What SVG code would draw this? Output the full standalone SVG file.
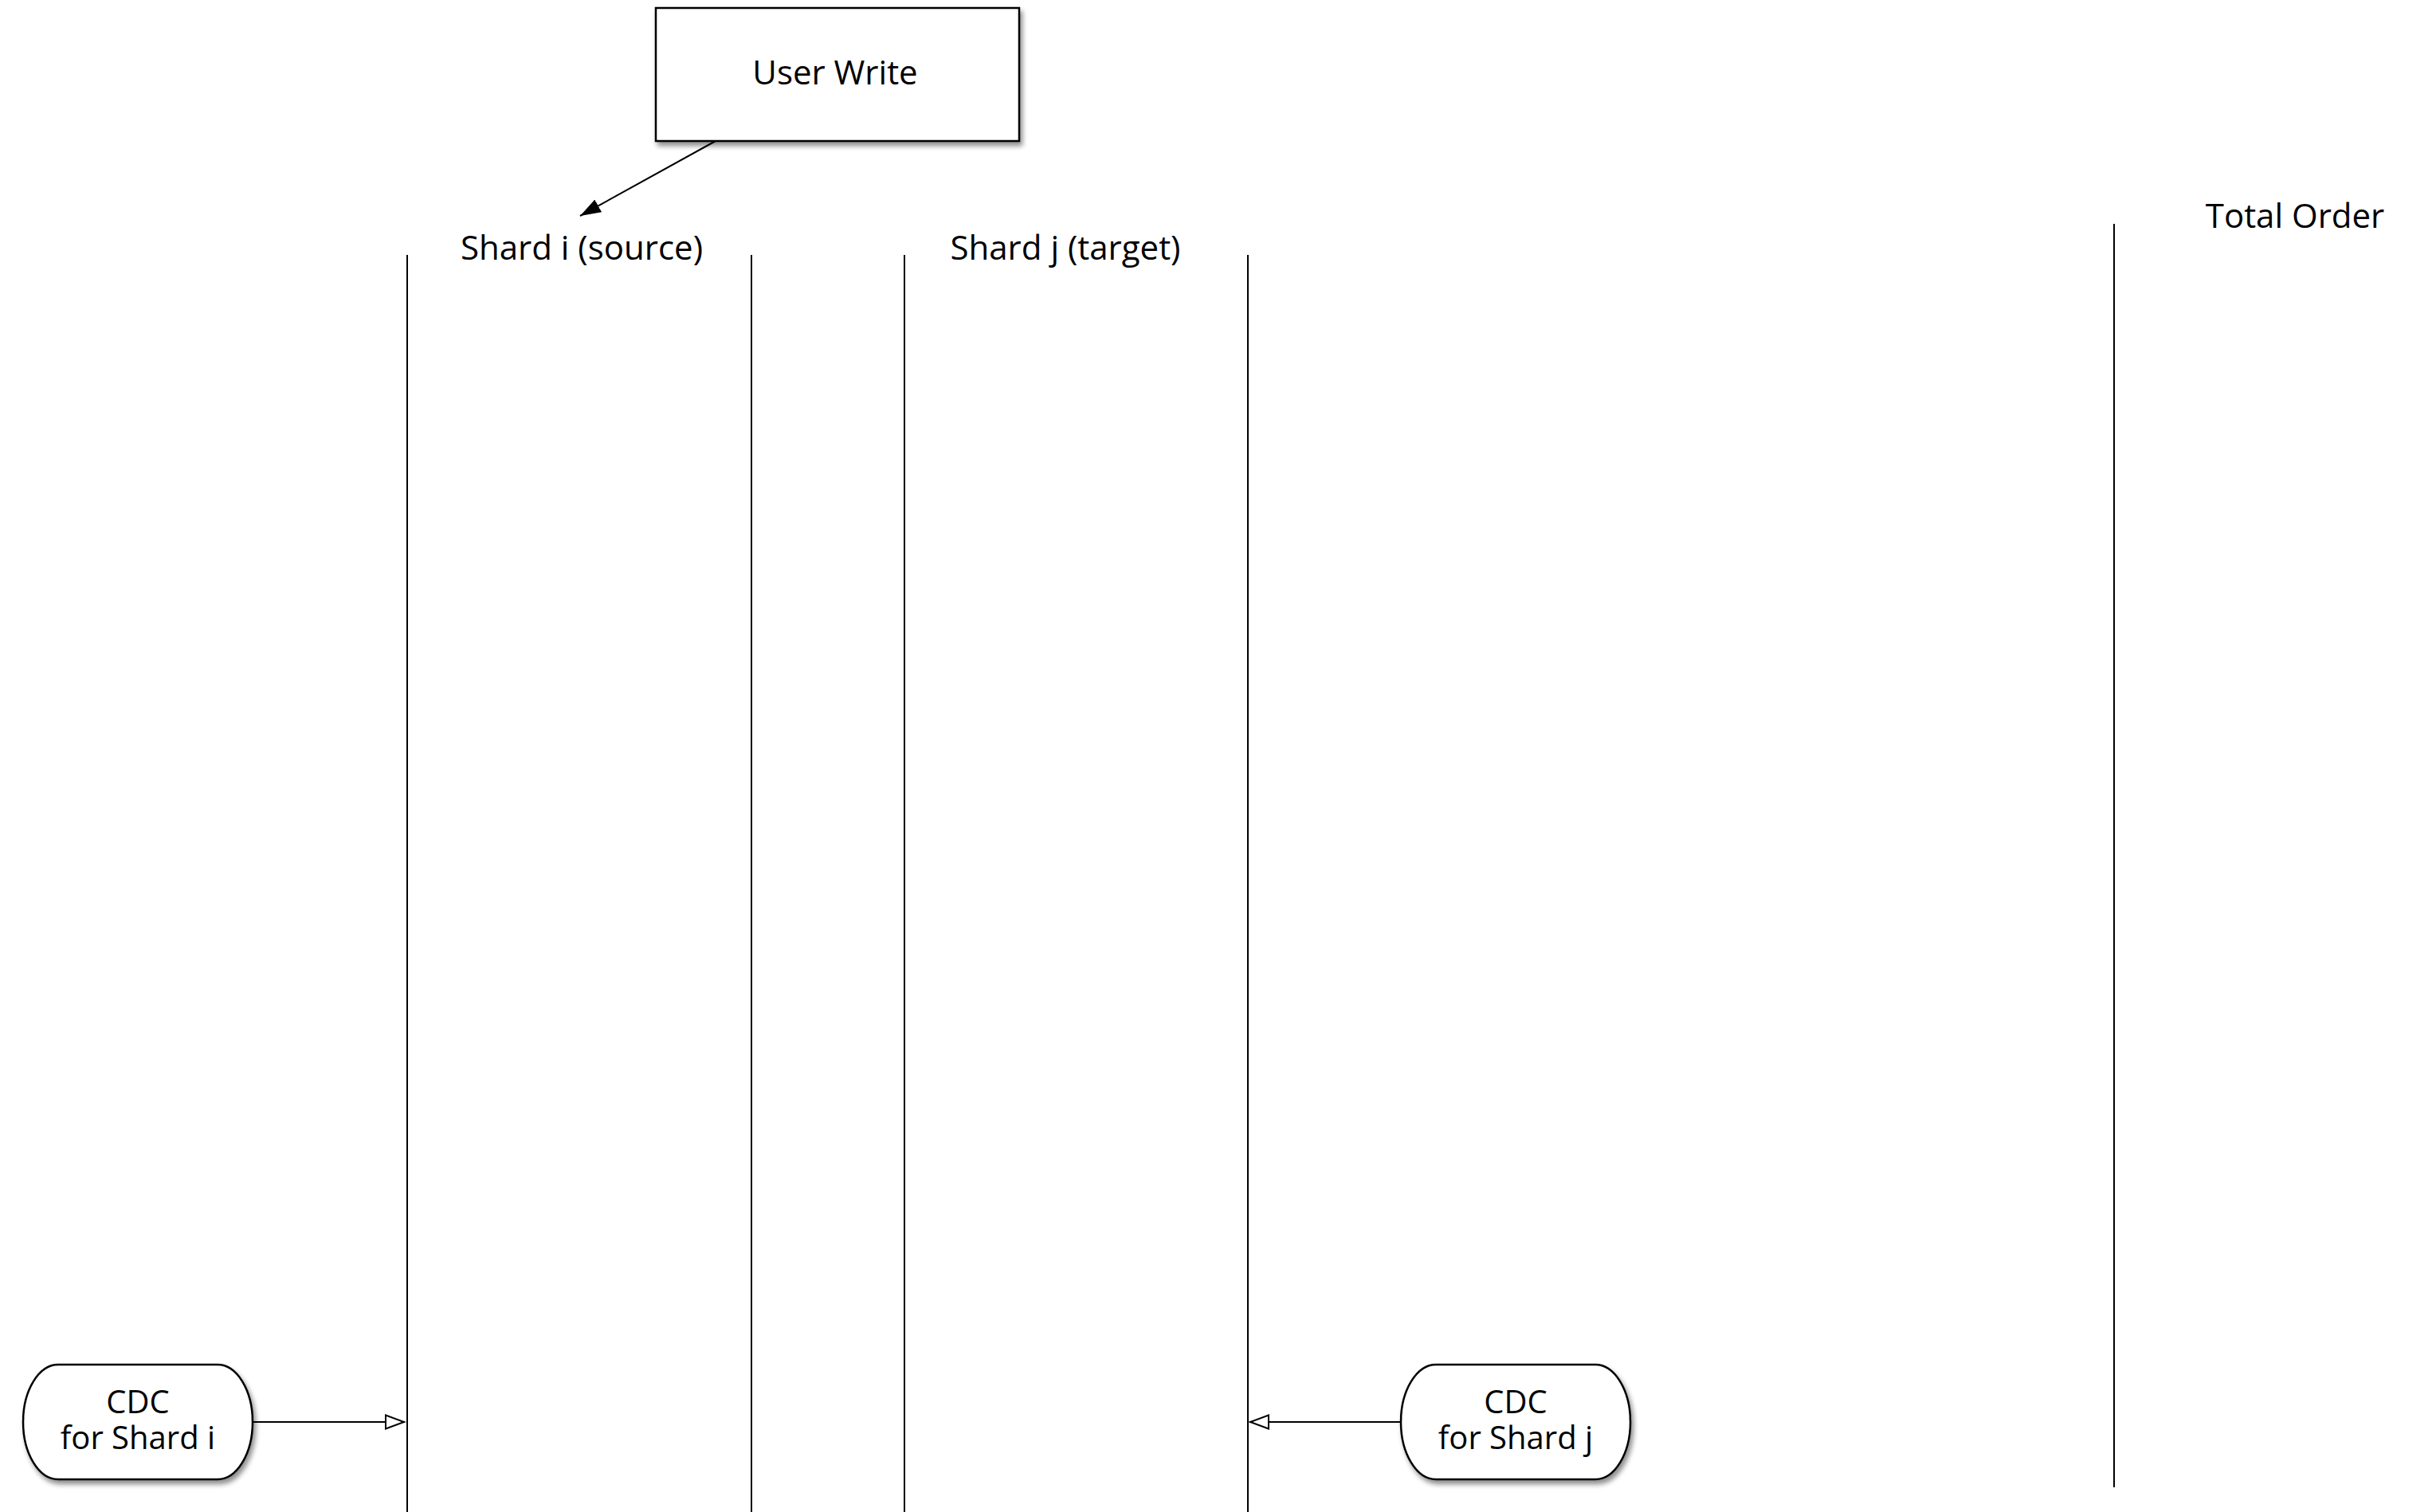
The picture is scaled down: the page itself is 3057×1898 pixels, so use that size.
<svg xmlns="http://www.w3.org/2000/svg" width="3057" height="1898" viewBox="0 0 3057 1898">
  <style>
    .label { font-family: "Open Sans", "Noto Sans", "Liberation Sans", sans-serif; font-size: 42px; fill: #000; text-anchor: middle; }
    .small { font-size: 40px; }
    .box { fill: #fff; stroke: #000; stroke-width: 2.5; }
    .lane { stroke: #000; stroke-width: 2; fill: none; }
    .edge { stroke: #000; stroke-width: 2; fill: none; }
  </style>
  <defs>
    <filter id="shadow" x="-20%" y="-20%" width="140%" height="150%">
      <feGaussianBlur in="SourceAlpha" stdDeviation="3"/>
      <feOffset dx="3" dy="5" result="b"/>
      <feComponentTransfer><feFuncA type="linear" slope="0.45"/></feComponentTransfer>
      <feMerge><feMergeNode/><feMergeNode in="SourceGraphic"/></feMerge>
    </filter>
    <marker id="solidHead" markerUnits="userSpaceOnUse" markerWidth="30" markerHeight="22" refX="26" refY="9" orient="auto">
      <path d="M0,0 L26,9 L0,18 Z" fill="#000"/>
    </marker>
    <marker id="openHead" markerUnits="userSpaceOnUse" markerWidth="30" markerHeight="24" refX="25" refY="10" orient="auto">
      <path d="M1,1.5 L24,10 L1,18.5 Z" fill="#fff" stroke="#000" stroke-width="2"/>
    </marker>
  </defs>

  <!-- shard lifelines -->
  <g id="lanes">
    <line class="lane" x1="511" y1="320" x2="511" y2="1898"/>
    <line class="lane" x1="943" y1="320" x2="943" y2="1898"/>
    <line class="lane" x1="1135" y1="320" x2="1135" y2="1898"/>
    <line class="lane" x1="1566" y1="320" x2="1566" y2="1898"/>
    <line class="lane" x1="2653" y1="281" x2="2653" y2="1867"/>
  </g>

  <!-- lane titles -->
  <g id="shard-i-title"><text class="label" x="730" y="326">Shard i (source)</text></g>
  <g id="shard-j-title"><text class="label" x="1337" y="326">Shard j (target)</text></g>
  <g id="total-order-title"><text class="label" x="2880" y="286">Total Order</text></g>

  <!-- nodes -->
  <g id="user-write">
    <rect class="box" x="823" y="10" width="456" height="167" filter="url(#shadow)"/>
    <text class="label" x="1048" y="106">User Write</text>
  </g>

  <g id="cdc-shard-i">
    <rect class="box" x="29" y="1713" width="288" height="144" rx="44" ry="72" filter="url(#shadow)"/>
    <text class="label small" x="173" y="1774">CDC</text>
    <text class="label small" x="173" y="1819">for Shard i</text>
  </g>

  <g id="cdc-shard-j">
    <rect class="box" x="1758" y="1713" width="288" height="144" rx="44" ry="72" filter="url(#shadow)"/>
    <text class="label small" x="1902" y="1774">CDC</text>
    <text class="label small" x="1902" y="1819">for Shard j</text>
  </g>

  <!-- connectors -->
  <g id="connectors">
    <line class="edge" x1="898" y1="177" x2="728" y2="271" marker-end="url(#solidHead)"/>
    <line class="edge" x1="317" y1="1785" x2="508" y2="1785" marker-end="url(#openHead)"/>
    <line class="edge" x1="1758" y1="1785" x2="1568" y2="1785" marker-end="url(#openHead)"/>
  </g>
</svg>
